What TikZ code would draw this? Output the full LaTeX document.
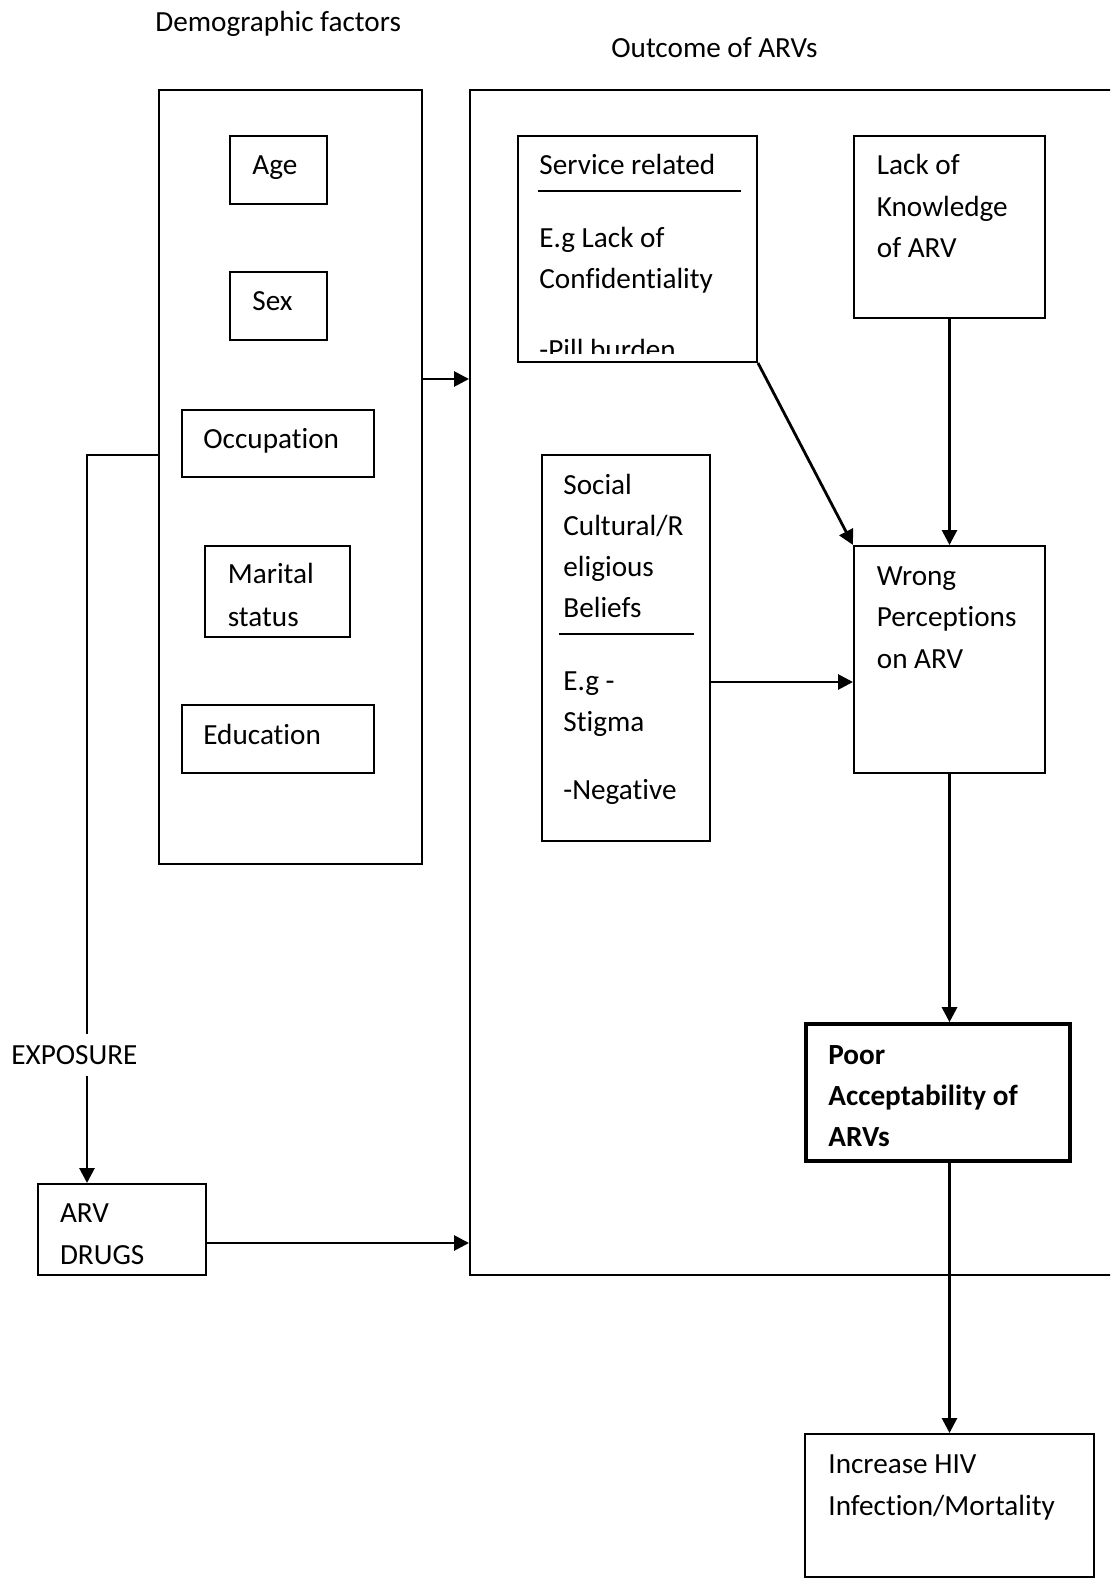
\documentclass[tikz,border=0pt]{standalone}
\usepackage{fontspec}
\setmainfont{Carlito}[Ligatures={NoCommon}]
\usetikzlibrary{arrows.meta,fit,positioning}
\tikzset{
  box/.style={draw,line width=1pt,inner sep=0pt},
  txt/.style={anchor=base west,inner sep=0pt,font=\fontsize{14.6}{18}\selectfont},
}
\begin{document}
\begin{tikzpicture}[x=0.5pt,y=-0.5pt,>={Triangle[length=7.5pt,width=7.5pt]},line width=1.4pt]
	  \useasboundingbox (0,0) rectangle (1110,1585);
	  \clip (0,0) rectangle (1110,1585);
	  % headings
	  \node[txt] (hdemo) at (154,31.5) {Demographic factors};
	  \node[txt] (hout) at (610,57.5) {Outcome of ARVs};
	  % demographic factors
	  \node[box,fit={(159,90) (422,864)}] (demo) {};
	  \node[box,fit={(229.5,135.5) (326.5,204)}] (age) {};
	  \node[box,fit={(229.5,272) (326.5,340)}] (sex) {};
	  \node[box,fit={(182,409.5) (374,477)}] (occ) {};
	  \node[box,fit={(205,546) (350,637)}] (mar) {};
	  \node[box,fit={(182,705) (374,773)}] (edu) {};
	  \node[txt] (tage) at (251,174.5) {Age};
	  \node[txt] (tsex) at (251,310.5) {Sex};
	  \node[txt] (tocc) at (202,448.5) {Occupation};
	  \node[txt] (tmar1) at (226.5,583.5) {Marital};
	  \node[txt] (tmar2) at (226.5,626.5) {status};
	  \node[txt] (tedu) at (202,744.5) {Education};
	  % outcome of ARVs
	  \node[box,fit={(470,90) (1125,1275)}] (outcome) {};
	  \node[box,fit={(518,135.5) (757,362)}] (service) {};
	  \draw[line width=1pt] (538,191) -- (741,191);
	  \node[txt] (ts1) at (538,174.5) {Service related};
	  \node[txt] (ts2) at (538,247) {E.g Lack of};
	  \node[txt] (ts3) at (538,288.5) {Confidentiality};
	  \begin{scope}
	    \clip (518,135.5) rectangle (757,353.5);
	    \node[txt] (ts4) at (538,359) {-Pill burden};
	  \end{scope}
	  \node[box,fit={(854,135.5) (1045,317.5)}] (lack) {};
	  \node[txt] (tl1) at (875.5,174.5) {Lack of};
	  \node[txt] (tl2) at (875.5,216) {Knowledge};
	  \node[txt] (tl3) at (875.5,257.5) {of ARV};
	  \node[box,fit={(542,455) (710,841)}] (social) {};
	  \draw[line width=1pt] (559,634) -- (694,634);
	  \node[txt] (tc1) at (562,494) {Social};
	  \node[txt] (tc2) at (562,535) {Cultural/R};
	  \node[txt] (tc3) at (562,576.5) {eligious};
	  \node[txt] (tc4) at (562,617.5) {Beliefs};
	  \node[txt] (tc5) at (562,690) {E.g -};
	  \node[txt] (tc6) at (562,731) {Stigma};
	  \node[txt] (tc7) at (562,799.5) {-Negative};
	  \node[box,fit={(854,546) (1045,773)}] (wrong) {};
	  \node[txt] (tw1) at (875.5,585) {Wrong};
	  \node[txt] (tw2) at (875.5,626.5) {Perceptions};
	  \node[txt] (tw3) at (875.5,668) {on ARV};
	  \node[box,line width=1.8pt,fit={(806,1024) (1070,1161)}] (poor) {};
	  \node[txt,font=\fontsize{14.6}{18}\selectfont\bfseries] (tp1) at (827,1064) {Poor};
	  \node[txt,font=\fontsize{14.6}{18}\selectfont\bfseries] (tp2) at (827,1105) {Acceptability of};
	  \node[txt,font=\fontsize{14.6}{18}\selectfont\bfseries] (tp3) at (827,1146) {ARVs};
	  \node[box,fit={(805,1434) (1094,1577)}] (incr) {};
	  \node[txt] (ti1) at (827,1473.5) {Increase HIV};
	  \node[txt] (ti2) at (827,1515) {Infection/Mortality};
	  % exposure
	  \node[box,fit={(38,1184) (206,1275)}] (arv) {};
	  \node[txt] (ta1) at (58.6,1222.5) {ARV};
	  \node[txt] (ta2) at (58.6,1264) {DRUGS};
	  \node[txt,inner ysep=5pt] (expo) at (10,1064) {EXPOSURE};
	  % connectors
	  \coordinate (bend) at (87,455);
	  \coordinate (d2o) at (422,379);
	  \coordinate (s2w) at (710,682);
	  \coordinate (a2o) at (206,1243);
	  \draw (demo.west |- bend) -- (bend) -- (bend |- expo.north);
	  \draw[->] (bend |- expo.south) -- (bend |- arv.north);
	  \draw[->] (demo.east |- d2o) -- (outcome.west |- d2o);
	  \draw[->] (arv.east |- a2o) -- (outcome.west |- a2o);
	  \draw[->] (service.south east) -- (wrong.north west);
	  \draw[->] (lack.south) -- (wrong.north);
	  \draw[->] (social.east |- s2w) -- (wrong.west |- s2w);
	  \draw[->] (wrong.south) -- (wrong.south |- poor.north);
	  \draw[->] (wrong.south |- poor.south) -- (wrong.south |- incr.north);
	\end{tikzpicture}
\end{document}
